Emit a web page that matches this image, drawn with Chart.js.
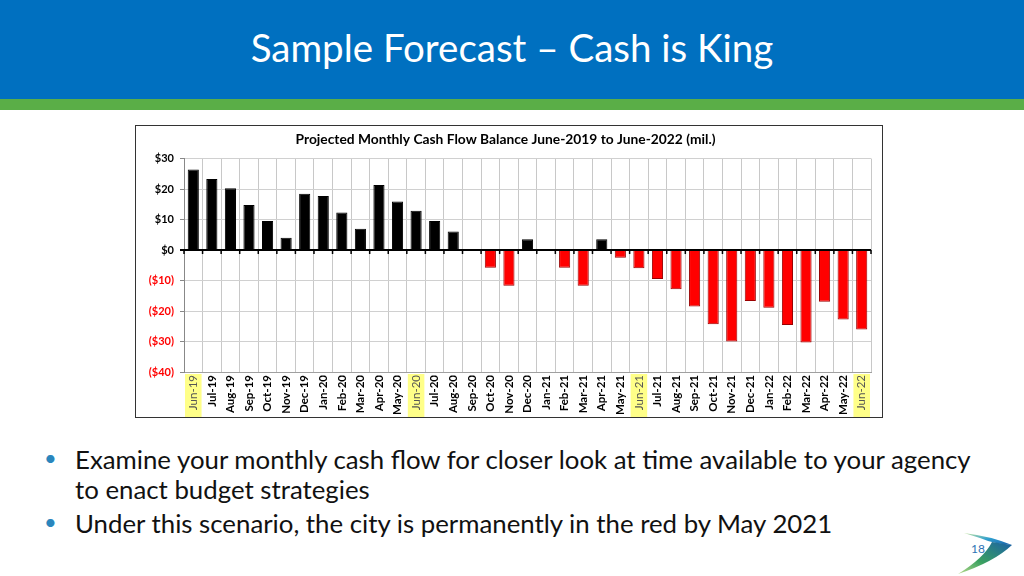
<!DOCTYPE html>
<html>
<head>
<meta charset="utf-8">
<script src="https://cdn.jsdelivr.net/npm/chart.js@4"></script>
<style>
  html, body { margin:0; padding:0; background:#fff; }
  body { width:1024px; height:576px; position:relative; overflow:hidden; font-family: Lato, "Open Sans", sans-serif; }
  #hdr { position:absolute; left:0; top:0; width:1024px; height:99px; background:#0070c0; }
  #hdr2 { position:absolute; left:0; top:99px; width:1024px; height:11px; background:#5aae47; }
  #title { position:absolute; left:0; top:24px; width:1024px; text-align:center; color:#fff; font-size:38.5px; font-family: Lato, sans-serif; }
  #box { position:absolute; left:135px; top:125px; width:746px; height:291px; border:1px solid #333; background:#fff; }
  #box canvas { display:block; }
  .bul { position:absolute; left:75px; font-size:25.8px; color:#111; line-height:30px; width:912px; }
  .dot { position:absolute; left:44px; font-size:22px; color:#2a86bd; }
  #pg { position:absolute; left:971px; top:541px; font-size:12px; color:#2e74b5; }
</style>
</head>
<body>
<div id="hdr"></div>
<div id="hdr2"></div>
<div id="title">Sample Forecast – Cash is King</div>
<div id="box"><canvas id="c" width="746" height="291"></canvas></div>
<div class="dot" style="top:444px">•</div>
<div class="bul" style="top:444px">Examine your monthly cash flow for closer look at time available to your agency to enact budget strategies</div>
<div class="dot" style="top:508px">•</div>
<div class="bul" style="top:508px">Under this scenario, the city is permanently in the red by May 2021</div>
<svg style="position:absolute;left:950px;top:530px" width="70" height="46" viewBox="0 0 70 46">
  <defs>
    <linearGradient id="g1" x1="0" y1="0" x2="1" y2="1">
      <stop offset="0" stop-color="#c8e6a0"/>
      <stop offset="0.5" stop-color="#2f9fd0"/>
      <stop offset="1" stop-color="#1a5fa8"/>
    </linearGradient>
    <linearGradient id="g2" x1="1" y1="0" x2="0" y2="1">
      <stop offset="0" stop-color="#1a5fa8"/>
      <stop offset="0.6" stop-color="#3aa060"/>
      <stop offset="1" stop-color="#b8dc8c"/>
    </linearGradient>
  </defs>
  <path d="M14 3 Q40 6 62 15 Q44 14 30 8 Z" fill="url(#g1)"/>
  <path d="M62 15 Q44 32 8 44 Q34 28 42 12 Z" fill="url(#g2)"/>
</svg>
<div id="pg">18</div>
<script>
const categories = ["Jun-19","Jul-19","Aug-19","Sep-19","Oct-19","Nov-19","Dec-19","Jan-20","Feb-20","Mar-20","Apr-20","May-20","Jun-20","Jul-20","Aug-20","Sep-20","Oct-20","Nov-20","Dec-20","Jan-21","Feb-21","Mar-21","Apr-21","May-21","Jun-21","Jul-21","Aug-21","Sep-21","Oct-21","Nov-21","Dec-21","Jan-22","Feb-22","Mar-22","Apr-22","May-22","Jun-22"];
const balance = [26.4,23.3,20.3,14.8,9.5,4.0,18.5,17.7,12.3,7.0,21.3,15.9,12.9,9.5,6.1,0,-5.8,-11.7,3.5,0,-5.8,-11.7,3.5,-2.5,-6.0,-9.5,-12.9,-18.5,-24.3,-30.0,-16.7,-18.9,-24.6,-30.3,-17.0,-22.8,-26.1];
const highlighted = ["Jun-19","Jun-20","Jun-21","Jun-22"];
const yTicks = [30,20,10,0,-10,-20,-30,-40];
const chartTitle = "Projected Monthly Cash Flow Balance June-2019 to June-2022 (mil.)";

const CF = "Lato, 'Open Sans', sans-serif";

const highlightPlugin = {
  id: 'hl',
  beforeDraw(chart) {
    const xs = chart.scales.x, ctx = chart.ctx;
    const w = xs.width / categories.length;
    ctx.save();
    ctx.fillStyle = '#ffff88';
    categories.forEach((c, i) => {
      if (highlighted.includes(c)) {
        const x = xs.getPixelForValue(i);
        ctx.fillRect(x - w/2 + 1, xs.top + 2, w - 2, xs.bottom - xs.top - 2);
      }
    });
    ctx.restore();
  },
  afterDatasetsDraw(chart) {
    const xs = chart.scales.x, ys = chart.scales.y, ctx = chart.ctx;
    const y0 = ys.getPixelForValue(0);
    const w = xs.width / categories.length;
    ctx.save();
    ctx.strokeStyle = '#000';
    ctx.lineWidth = 2;
    ctx.beginPath();
    ctx.moveTo(xs.left - 4, y0); ctx.lineTo(xs.right, y0);
    ctx.stroke();
    ctx.lineWidth = 1.5;
    ctx.beginPath();
    for (let i = 0; i <= categories.length; i++) {
      const x = xs.left + i * w;
      ctx.moveTo(x, y0); ctx.lineTo(x, y0 + 4);
    }
    ctx.stroke();
    ctx.restore();
  }
};

new Chart(document.getElementById('c'), {
  type: 'bar',
  data: {
    labels: categories,
    datasets: [{
      data: balance,
      backgroundColor: balance.map(v => v < 0 ? '#ff0000' : '#000000'),
      borderColor: balance.map(v => v < 0 ? '#9a0000' : '#000000'),
      borderWidth: 1,
      barPercentage: 0.6,
      categoryPercentage: 1.0
    }]
  },
  options: {
    responsive: false,
    animation: false,
    devicePixelRatio: 1,
    layout: { padding: { left: 4, right: 11, top: 3, bottom: 0 } },
    plugins: {
      legend: { display: false },
      tooltip: { enabled: false },
      title: {
        display: true,
        text: chartTitle,
        color: '#000',
        font: { family: CF, size: 13.8, weight: 'bold' },
        padding: { top: 2, bottom: 11 }
      }
    },
    scales: {
      x: {
        grid: { color: '#c8c8c8', lineWidth: 1, drawTicks: false, offset: true },
        border: { color: '#a0a0a0' },
        ticks: {
          autoSkip: false,
          minRotation: 90, maxRotation: 90,
          padding: 3,
          color: ctx => highlighted.includes(categories[ctx.index]) ? '#555' : '#000',
          font: ctx => ({ family: CF, size: 11.5, weight: highlighted.includes(categories[ctx.index]) ? 'normal' : 'bold' })
        },
        afterFit(s) { s.height = 45; }
      },
      y: {
        min: -40, max: 30,
        afterBuildTicks(s) { s.ticks = yTicks.map(v => ({ value: v })); },
        grid: { color: '#d0d0d0', lineWidth: 1, tickLength: 4, tickColor: '#888' },
        border: { color: '#888' },
        ticks: {
          padding: 6,
          color: ctx => ctx.tick.value < 0 ? '#ff0000' : '#000',
          font: { family: CF, size: 11, weight: 'bold' },
          callback: v => v < 0 ? '($' + (-v) + ')' : '$' + v
        },
        afterFit(s) { s.width = 44; }
      }
    }
  },
  plugins: [highlightPlugin]
});
</script>
</body>
</html>
